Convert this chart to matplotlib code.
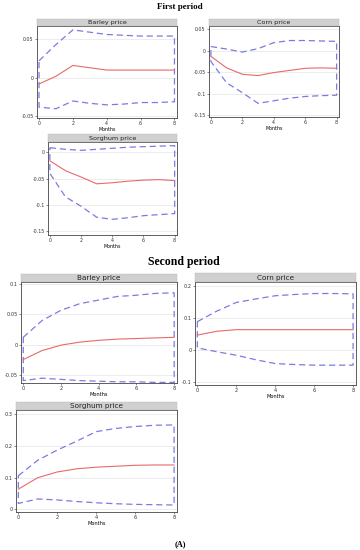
import matplotlib
matplotlib.use("Agg")
import matplotlib.pyplot as plt
import numpy as np

# ---------------- data ----------------
months = [0, 1, 2, 3, 4, 5, 6, 7, 8]

# first period
barley1_irf = [-0.008, 0.002, 0.016, 0.013, 0.010, 0.010, 0.010, 0.010, 0.010]
barley1_hi = [0.022, 0.043, 0.062, 0.059, 0.056, 0.055, 0.054, 0.054, 0.054]
barley1_lo = [-0.038, -0.040, -0.030, -0.033, -0.035, -0.034, -0.032, -0.032, -0.031]

corn1_irf = [-0.013, -0.040, -0.055, -0.058, -0.051, -0.046, -0.041, -0.040, -0.041]
corn1_hi = [0.010, 0.004, -0.003, 0.005, 0.019, 0.024, 0.024, 0.023, 0.022]
corn1_lo = [-0.025, -0.075, -0.098, -0.123, -0.117, -0.111, -0.107, -0.105, -0.104]

sorghum1_irf = [-0.016, -0.035, -0.047, -0.060, -0.058, -0.055, -0.053, -0.052, -0.054]
sorghum1_hi = [0.009, 0.006, 0.004, 0.006, 0.008, 0.010, 0.011, 0.012, 0.013]
sorghum1_lo = [-0.040, -0.085, -0.103, -0.124, -0.128, -0.125, -0.121, -0.119, -0.117]

# second period
barley2_irf = [-0.025, -0.010, -0.001, 0.004, 0.007, 0.009, 0.010, 0.011, 0.012]
barley2_hi = [0.012, 0.040, 0.057, 0.068, 0.074, 0.080, 0.082, 0.085, 0.086]
barley2_lo = [-0.060, -0.056, -0.058, -0.060, -0.061, -0.062, -0.062, -0.063, -0.063]

corn2_irf = [0.047, 0.059, 0.064, 0.064, 0.064, 0.064, 0.064, 0.064, 0.064]
corn2_hi = [0.089, 0.122, 0.149, 0.160, 0.170, 0.174, 0.177, 0.177, 0.176]
corn2_lo = [0.007, -0.005, -0.016, -0.030, -0.042, -0.045, -0.047, -0.047, -0.047]

sorghum2_irf = [0.064, 0.100, 0.118, 0.128, 0.133, 0.136, 0.139, 0.140, 0.140]
sorghum2_hi = [0.106, 0.155, 0.187, 0.215, 0.245, 0.255, 0.261, 0.265, 0.266]
sorghum2_lo = [0.019, 0.033, 0.030, 0.025, 0.021, 0.018, 0.016, 0.015, 0.014]

W, H = 360, 550
fig = plt.figure(figsize=(3.6, 5.5), dpi=100)

RED = "#e86a6a"
BLUE = "#7b7be0"


def panel(box, title, irf, hi, lo, ylim, yticks, strip_h=8, fs=3.6, tfs=5):
    l, t, r, b = box
    ax = fig.add_axes([l / W, 1 - b / H, (r - l) / W, (b - t) / H])
    # confidence band drawn as a closed dashed outline
    x = months + months[::-1] + [months[0]]
    y = hi + lo[::-1] + [hi[0]]
    ax.plot(x, y, color=BLUE, lw=0.9, ls=(0, (5, 3)))
    ax.plot(months, irf, color=RED, lw=0.8)
    ax.set_xlim(-0.12, 8.15)
    ax.set_ylim(*ylim)
    ax.set_xticks([0, 2, 4, 6, 8])
    ax.set_yticks(yticks)
    ax.set_yticklabels([("%g" % v) for v in yticks])
    ax.grid(axis="y", color="#e4e4e4", lw=0.5)
    ax.set_axisbelow(True)
    ax.tick_params(labelsize=fs, length=1.5, width=0.4, pad=1, colors="#333333")
    ax.set_xlabel("Months", fontsize=fs, labelpad=0.5)
    for s in ax.spines.values():
        s.set_linewidth(0.6)
        s.set_color("#444444")
    # strip header
    sx = fig.add_axes([l / W, 1 - t / H, (r - l) / W, strip_h / H])
    sx.set_facecolor("#d0d0d0")
    sx.set_xticks([])
    sx.set_yticks([])
    for s in sx.spines.values():
        s.set_linewidth(0.3)
        s.set_color("#bbbbbb")
    sx.text(0.5, 0.45, title, ha="center", va="center", fontsize=tfs,
            transform=sx.transAxes, color="#222222")
    return ax


# first period panels
panel((37, 26, 177, 118), "Barley price", barley1_irf, barley1_hi, barley1_lo,
      (-0.052, 0.067), [-0.05, 0, 0.05], strip_h=7, fs=3.4, tfs=4.6)
panel((209, 26, 339, 117), "Corn price", corn1_irf, corn1_hi, corn1_lo,
      (-0.155, 0.058), [-0.15, -0.1, -0.05, 0, 0.05], strip_h=7, fs=3.4, tfs=4.6)
panel((48, 142, 177, 235), "Sorghum price", sorghum1_irf, sorghum1_hi, sorghum1_lo,
      (-0.158, 0.02), [-0.15, -0.1, -0.05, 0], strip_h=8, fs=3.4, tfs=4.6)

# second period panels
panel((21, 282, 177, 383), "Barley price", barley2_irf, barley2_hi, barley2_lo,
      (-0.064, 0.104), [-0.05, 0, 0.05, 0.1], strip_h=8, fs=3.6, tfs=5.2)
panel((195, 282, 356, 385), "Corn price", corn2_irf, corn2_hi, corn2_lo,
      (-0.109, 0.213), [-0.1, 0, 0.1, 0.2], strip_h=9, fs=3.6, tfs=5.2)
panel((16, 410, 177, 512), "Sorghum price", sorghum2_irf, sorghum2_hi, sorghum2_lo,
      (-0.008, 0.313), [0, 0.1, 0.2, 0.3], strip_h=8, fs=3.6, tfs=5.2)

serif = ["Liberation Serif", "DejaVu Serif"]
fig.text(180 / W, 1 - 7 / H, "First period", ha="center", va="center",
         fontsize=6.5, fontweight="bold", family=serif)
fig.text(184 / W, 1 - 262 / H, "Second period", ha="center", va="center",
         fontsize=8.5, fontweight="bold", family=serif)
fig.text(180 / W, 1 - 544 / H, "(A)", ha="center", va="center",
         fontsize=6, fontweight="bold", family=serif)

fig.savefig("out.png", dpi=100, facecolor="white")
